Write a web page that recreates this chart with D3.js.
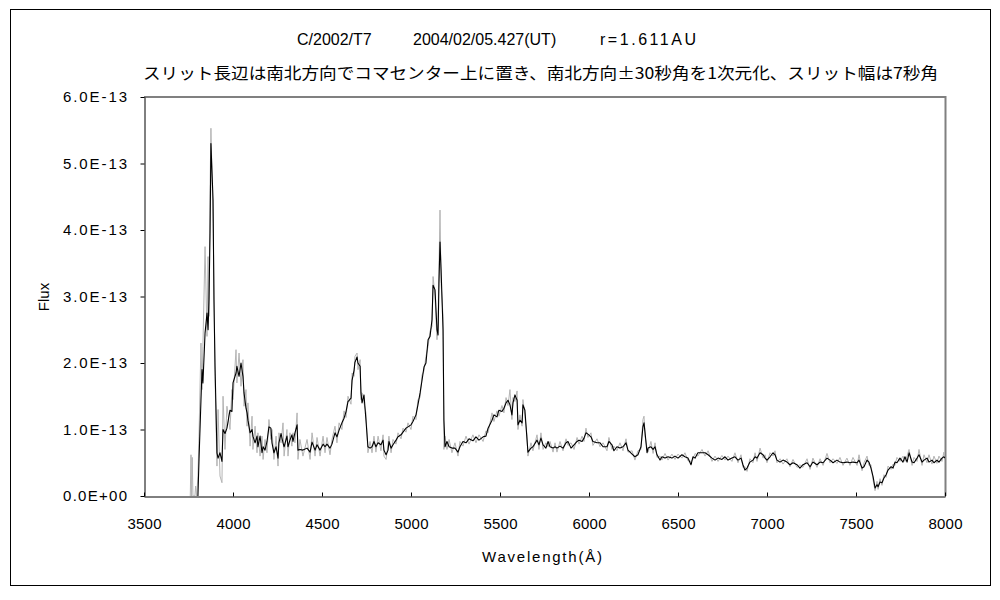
<!DOCTYPE html>
<html><head><meta charset="utf-8">
<script src="https://cdn.jsdelivr.net/npm/d3@7"></script>
<style>
html,body{margin:0;padding:0;background:#fff;}
svg{display:block;}
text{font-family:"Liberation Sans","DejaVu Sans",sans-serif;fill:#000;}
.jp{font-family:"Noto Sans CJK JP",sans-serif;}
</style></head><body>
<svg id="chart" width="1000" height="600"></svg>
<script>
// ---- data (flux in units of 1E-13) ----
const FLUX_UNIT = 1e-13;
const titleLine1 = ["C/2002/T7", "2004/02/05.427(UT)", "r=1.611AU"];
const titleLine2 = "スリット長辺は南北方向でコマセンター上に置き、南北方向±30秒角を1次元化、スリット幅は7秒角";
const xLabel = "Wavelength(Å)";
const yLabel = "Flux";
const xTicks = [3500,4000,4500,5000,5500,6000,6500,7000,7500,8000];
const yTicks = [0,1e-13,2e-13,3e-13,4e-13,5e-13,6e-13];
const yTickLabels = ["0.0E+00","1.0E-13","2.0E-13","3.0E-13","4.0E-13","5.0E-13","6.0E-13"];

const wavelength = [3803,3809,3820,3826,3831,3843,3854,3860,3865,3871,3876,3888,3893,3899,3910,3916,3927,3938,3944,3955,3966,3983,3994,4000,4017,4022,4034,4045,4056,4062,4073,4079,4084,4096,4107,4112,4124,4135,4140,4152,4163,4169,4180,4191,4202,4213,4219,4230,4242,4253,4258,4270,4281,4287,4303,4309,4320,4331,4337,4348,4360,4365,4376,4393,4416,4433,4444,4461,4472,4489,4506,4517,4528,4545,4556,4573,4584,4596,4612,4624,4635,4646,4663,4669,4680,4685,4697,4702,4714,4719,4725,4736,4747,4758,4770,4781,4792,4803,4815,4831,4843,4848,4860,4871,4876,4888,4899,4916,4927,4944,4955,4972,4983,5000,5011,5028,5039,5051,5062,5073,5084,5096,5107,5118,5124,5135,5146,5152,5157,5163,5169,5180,5185,5191,5202,5214,5230,5247,5264,5275,5292,5309,5326,5348,5365,5382,5405,5421,5433,5455,5466,5483,5494,5511,5522,5534,5545,5556,5567,5573,5584,5596,5601,5612,5624,5629,5640,5652,5657,5674,5685,5708,5719,5730,5742,5758,5770,5781,5798,5809,5820,5837,5854,5871,5882,5899,5916,5933,5944,5961,5972,5983,5994,6011,6022,6045,6062,6079,6101,6112,6129,6140,6157,6174,6191,6208,6219,6242,6258,6275,6292,6303,6309,6315,6326,6332,6348,6360,6371,6382,6399,6410,6427,6444,6466,6483,6500,6522,6539,6556,6573,6584,6596,6612,6635,6652,6669,6691,6708,6725,6747,6764,6781,6803,6820,6837,6854,6865,6876,6888,6904,6921,6933,6944,6961,6978,6989,7000,7017,7034,7045,7056,7073,7090,7112,7129,7146,7169,7185,7202,7225,7242,7258,7281,7298,7315,7337,7354,7371,7393,7410,7427,7449,7466,7483,7506,7517,7534,7545,7562,7573,7584,7596,7607,7618,7624,7635,7646,7657,7669,7680,7697,7708,7719,7730,7747,7764,7775,7787,7798,7815,7826,7843,7854,7871,7882,7899,7910,7927,7938,7955,7966,7983,7994,8000];

// smoothed spectrum (black)
const fluxSmooth = [0.00,0.54,1.44,1.90,1.70,2.45,2.75,2.50,2.95,3.95,5.30,4.45,2.95,1.95,0.65,0.57,0.65,0.52,1.00,0.94,1.02,1.29,1.27,1.70,1.85,1.95,1.80,2.00,1.80,1.55,1.32,1.25,1.14,0.95,1.00,0.90,0.80,0.90,0.74,0.90,0.65,0.74,0.69,0.82,1.04,1.02,0.80,0.65,0.74,0.57,0.80,0.94,0.80,0.74,0.90,0.74,0.84,0.92,0.82,0.95,1.07,0.69,0.70,0.69,0.72,0.66,0.81,0.69,0.77,0.69,0.78,0.74,0.78,0.72,0.78,0.95,0.89,0.99,1.10,1.17,1.27,1.42,1.47,1.74,1.89,2.01,2.09,2.00,1.95,1.55,1.40,1.52,1.14,0.74,0.72,0.74,0.82,0.74,0.80,0.77,0.84,0.69,0.62,0.69,0.82,0.72,0.77,0.84,0.89,0.92,0.96,1.02,1.04,1.07,1.12,1.22,1.37,1.55,1.74,1.94,2.00,2.35,2.40,2.65,3.17,3.10,2.50,2.42,3.20,3.82,3.40,2.50,1.14,0.74,0.82,0.74,0.72,0.72,0.66,0.74,0.82,0.80,0.86,0.83,0.89,0.84,0.89,0.90,1.02,1.14,1.22,1.19,1.29,1.27,1.32,1.40,1.44,1.37,1.22,1.40,1.52,1.44,1.07,1.14,1.10,1.37,1.29,0.84,0.66,0.72,0.74,0.84,0.77,0.87,0.77,0.72,0.82,0.74,0.72,0.74,0.72,0.75,0.72,0.80,0.82,0.72,0.77,0.82,0.84,0.82,0.87,0.95,0.93,0.89,0.82,0.80,0.80,0.74,0.74,0.82,0.77,0.68,0.74,0.72,0.74,0.80,0.69,0.63,0.59,0.62,0.74,1.04,1.10,0.95,0.65,0.72,0.74,0.70,0.74,0.62,0.54,0.59,0.57,0.59,0.57,0.60,0.57,0.62,0.59,0.57,0.47,0.59,0.57,0.65,0.65,0.65,0.62,0.57,0.54,0.57,0.55,0.59,0.54,0.57,0.59,0.54,0.57,0.47,0.39,0.42,0.51,0.54,0.59,0.57,0.65,0.62,0.57,0.54,0.59,0.65,0.62,0.54,0.51,0.54,0.51,0.47,0.50,0.47,0.42,0.47,0.50,0.44,0.51,0.47,0.51,0.50,0.57,0.54,0.50,0.54,0.51,0.50,0.51,0.50,0.51,0.50,0.54,0.42,0.44,0.54,0.51,0.42,0.29,0.12,0.17,0.14,0.21,0.20,0.27,0.32,0.39,0.44,0.42,0.51,0.50,0.57,0.51,0.59,0.51,0.65,0.51,0.50,0.57,0.62,0.51,0.54,0.57,0.51,0.54,0.50,0.54,0.51,0.57,0.59,0.57];

// raw spectrum (grey)
const rawLeadWavelength = [3760,3764,3767,3771,3775,3786,3790,3796];
const rawLeadFlux = [0.00,0.62,0.00,0.58,0.00,0.00,0.15,0.00];
const fluxRaw = [0.30,0.90,2.30,1.60,2.25,3.75,2.40,3.60,2.70,4.60,5.53,4.10,3.20,1.80,0.45,1.30,0.30,0.20,1.50,0.70,1.35,1.00,1.60,1.45,2.20,1.70,2.15,1.65,2.05,1.35,1.60,1.05,1.40,0.75,1.20,0.70,1.05,0.65,0.95,0.60,0.90,0.55,0.85,0.65,1.15,0.85,1.00,0.55,0.90,0.45,0.95,0.80,1.10,0.60,1.00,0.60,0.95,0.75,0.95,0.80,1.25,0.55,0.85,0.60,0.85,0.55,0.95,0.60,0.88,0.60,0.90,0.65,0.88,0.62,0.85,1.05,0.80,1.10,1.00,1.28,1.18,1.50,1.38,1.85,1.80,2.10,2.15,1.90,2.05,1.45,1.55,1.40,1.25,0.65,0.82,0.65,0.90,0.66,0.90,0.68,0.92,0.60,0.55,0.78,0.90,0.65,0.85,0.78,0.95,0.86,1.02,0.96,1.10,1.00,1.20,1.15,1.45,1.48,1.82,1.88,2.10,2.25,2.48,2.55,3.30,3.00,2.35,2.60,3.40,4.30,3.20,2.70,0.70,0.90,0.70,0.85,0.65,0.80,0.60,0.82,0.75,0.90,0.78,0.92,0.80,0.92,0.82,0.98,0.95,1.25,1.12,1.28,1.20,1.36,1.25,1.48,1.36,1.60,1.15,1.48,1.42,1.58,1.00,1.22,1.05,1.45,1.20,0.90,0.60,0.80,0.68,0.92,0.70,0.95,0.70,0.80,0.74,0.82,0.66,0.80,0.66,0.82,0.68,0.86,0.76,0.80,0.70,0.88,0.78,0.90,0.82,1.02,0.88,0.95,0.76,0.86,0.74,0.80,0.68,0.88,0.70,0.75,0.68,0.80,0.68,0.86,0.66,0.68,0.54,0.68,0.70,1.15,1.20,0.90,0.72,0.66,0.82,0.64,0.80,0.58,0.60,0.54,0.64,0.54,0.63,0.55,0.63,0.57,0.65,0.53,0.52,0.55,0.64,0.60,0.70,0.60,0.68,0.52,0.60,0.52,0.61,0.54,0.60,0.52,0.65,0.50,0.62,0.43,0.44,0.37,0.56,0.50,0.65,0.52,0.72,0.57,0.62,0.50,0.65,0.60,0.68,0.50,0.56,0.48,0.56,0.44,0.55,0.43,0.47,0.43,0.56,0.40,0.57,0.43,0.56,0.46,0.64,0.50,0.56,0.49,0.58,0.46,0.57,0.46,0.58,0.46,0.62,0.38,0.50,0.60,0.46,0.47,0.24,0.08,0.22,0.10,0.26,0.16,0.32,0.28,0.45,0.40,0.48,0.46,0.58,0.52,0.60,0.52,0.60,0.70,0.46,0.58,0.52,0.70,0.46,0.62,0.50,0.62,0.48,0.60,0.49,0.60,0.52,0.66,0.55];

// ---- layout ----
const svg = d3.select("#chart");
const plot = {left:144, right:945, top:97, bottom:496};

const x = d3.scaleLinear().domain([3500, 8000]).range([plot.left, plot.right]);
const y = d3.scaleLinear().domain([0, 6e-13]).range([plot.bottom, plot.top]);

// outer frame
svg.append("rect").attr("x",10.5).attr("y",9.5).attr("width",980).attr("height",576)
  .attr("fill","none").attr("stroke","#000").attr("stroke-width",1);

// plot frame (grey top/right)
svg.append("path")
  .attr("d",`M${plot.left},${plot.top} H${plot.right+0.5} V${plot.bottom}`)
  .attr("fill","none").attr("stroke","#808080").attr("stroke-width",2);

svg.append("clipPath").attr("id","clip").append("rect")
  .attr("x",plot.left).attr("y",plot.top).attr("width",plot.right-plot.left).attr("height",plot.bottom-plot.top);

const rawData = rawLeadWavelength.map((w,i)=>({w, f:rawLeadFlux[i]}))
  .concat(wavelength.map((w,i)=>({w, f:fluxRaw[i]})));
const smoothData = wavelength.map((w,i)=>({w, f:fluxSmooth[i]}));

const line = d3.line().x(d=>x(d.w)).y(d=>y(d.f*FLUX_UNIT));

const g = svg.append("g").attr("clip-path","url(#clip)");
g.append("path").datum(rawData).attr("d",line)
  .attr("fill","none").attr("stroke","#b4b4b4").attr("stroke-width",1);
g.append("path").datum(smoothData).attr("d",line)
  .attr("fill","none").attr("stroke","#000").attr("stroke-width",1.1).attr("stroke-linejoin","round");

// y axis
const yAxis = d3.axisLeft(y).tickValues(yTicks).tickSize(4).tickSizeOuter(0)
  .tickFormat((d,i)=>yTickLabels[i]);
const ya = svg.append("g").attr("transform",`translate(${plot.left+0.5},0)`).call(yAxis);
ya.select(".domain").attr("stroke","#000");
ya.selectAll("text").attr("font-size",15).attr("dx",-10.5).attr("fill","#000")
  .attr("textLength",64).attr("lengthAdjust","spacing")
  .style("font-family","Liberation Sans, sans-serif");

// x axis (ticks point inward)
const xAxis = d3.axisBottom(x).tickValues(xTicks).tickSize(-4).tickSizeOuter(0).tickFormat(d3.format("d"));
const xa = svg.append("g").attr("transform",`translate(0,${plot.bottom+0.5})`).call(xAxis);
xa.select(".domain").attr("stroke","#000");
xa.selectAll("text").attr("font-size",15).attr("y",22).attr("fill","#000")
  .attr("textLength",34).attr("lengthAdjust","spacing")
  .style("font-family","Liberation Sans, sans-serif");

// axis titles
svg.append("text").attr("x",482).attr("y",562).attr("font-size",15)
  .attr("textLength",120).attr("lengthAdjust","spacing").text(xLabel);
svg.append("text").attr("transform","translate(49,297) rotate(-90)").attr("text-anchor","middle").attr("font-size",15).text(yLabel);

// titles
svg.append("text").attr("x",297).attr("y",45).attr("font-size",16).text(titleLine1[0]);
svg.append("text").attr("x",413).attr("y",45).attr("font-size",16).text(titleLine1[1]);
svg.append("text").attr("x",600).attr("y",45).attr("font-size",16)
  .attr("textLength",96).attr("lengthAdjust","spacing").text(titleLine1[2]);
svg.append("text").attr("class","jp").attr("x",143).attr("y",79).attr("font-size",16)
  .attr("textLength",795).attr("lengthAdjust","spacingAndGlyphs").text(titleLine2);
</script>
</body></html>
